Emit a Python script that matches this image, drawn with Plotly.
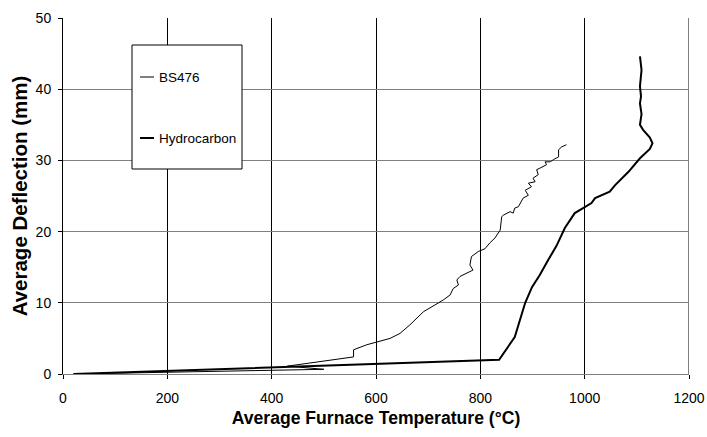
import plotly.graph_objects as go

# BS476 curve (temperature °C, deflection mm)
bs_temp = [20, 500, 430, 518, 557, 557, 582, 627, 646, 665, 691, 713, 729, 742, 748, 758, 755, 761,
           786, 780, 783, 796, 809, 818, 828, 838, 841, 844, 857, 863, 866, 873, 879, 882, 892,
           886, 898, 892, 905, 901, 911, 908, 914, 927, 924, 934, 940, 950, 950, 956, 965]
bs_defl = [0, 0.66, 1.1, 2.0, 2.4, 3.4, 4.1, 5.0, 5.7, 6.9, 8.75, 9.7, 10.4, 11.1, 12.0, 12.5, 13.2, 13.7,
           14.6, 15.3, 16.5, 17.2, 17.6, 18.4, 19.1, 20.2, 22.1, 22.3, 22.8, 22.6, 23.3, 23.5, 24.2, 24.7, 25.1,
           25.8, 26.3, 26.8, 27.0, 27.5, 28.0, 28.7, 28.9, 29.4, 29.8, 29.8, 30.1, 30.5, 31.5, 31.9, 32.2]

# Hydrocarbon curve
hc_temp = [20, 836, 866, 886, 899, 914, 930, 946, 962, 981, 997, 1013, 1020, 1048, 1058, 1084, 1106,
           1125, 1130, 1125, 1112, 1106, 1109, 1106, 1108, 1106, 1109, 1106]
hc_defl = [0, 2.0, 5.2, 10.0, 12.2, 13.9, 16.0, 18.0, 20.5, 22.6, 23.3, 24.0, 24.7, 25.6, 26.5, 28.4, 30.3,
           31.6, 32.4, 33.2, 34.3, 35.0, 36.5, 38.0, 39.0, 40.4, 42.7, 44.6]

x_ticks = [0, 200, 400, 600, 800, 1000, 1200]
y_ticks = [0, 10, 20, 30, 40, 50]
series_names = ["BS476", "Hydrocarbon"]
series_widths = [1, 2]

FONT = "Liberation Sans, Arial, sans-serif"

fig = go.Figure()
fig.add_trace(go.Scatter(x=bs_temp, y=bs_defl, mode="lines", name=series_names[0],
                         line=dict(color="black", width=series_widths[0])))
fig.add_trace(go.Scatter(x=hc_temp, y=hc_defl, mode="lines", name=series_names[1],
                         line=dict(color="black", width=series_widths[1])))

# plot area in pixels: x 63..689, y 18..374
def px(xp):
    return (xp - 63) / 626.0

def py(yp):
    return (374 - yp) / 356.0

shapes = [
    dict(type="rect", xref="paper", yref="paper",
         x0=px(132), x1=px(242), y0=py(169), y1=py(45),
         line=dict(color="black", width=1), fillcolor="white", layer="above"),
    dict(type="line", xref="x", yref="paper", x0=1200, x1=1200, y0=0, y1=1,
         line=dict(color="#808080", width=2), layer="above"),
]
annotations = []
legend_rows = [77, 138]
for name, w, yrow in zip(series_names, series_widths, legend_rows):
    shapes.append(dict(type="line", xref="paper", yref="paper",
                       x0=px(140), x1=px(154), y0=py(yrow), y1=py(yrow),
                       line=dict(color="black", width=w), layer="above"))
    annotations.append(dict(xref="paper", yref="paper", x=px(157), y=py(yrow),
                            xanchor="left", yanchor="middle", showarrow=False,
                            text=name, font=dict(family=FONT, size=13.5, color="black")))

fig.update_layout(
    width=707, height=437,
    margin=dict(l=63, r=18, t=18, b=63, autoexpand=False),
    paper_bgcolor="white", plot_bgcolor="white",
    font=dict(family=FONT, size=13.5, color="black"),
    showlegend=False,
    xaxis=dict(range=[0, 1200], tickvals=x_ticks, showgrid=True, gridcolor="black", gridwidth=1,
               showline=True, linecolor="#808080", linewidth=1, zeroline=False,
               ticks="outside", ticklen=4, tickcolor="black", ticklabelstandoff=7,
               tickfont=dict(size=14), automargin=False,
               title=dict(text="<b>Average Furnace Temperature (°C)</b>", font=dict(size=17.6), standoff=6)),
    yaxis=dict(range=[0, 50], tickvals=y_ticks, showgrid=True, gridcolor="#808080", gridwidth=1,
               showline=True, linecolor="black", linewidth=1, zeroline=False,
               ticks="outside", ticklen=4, tickcolor="black", ticklabelstandoff=4,
               tickfont=dict(size=14), automargin=False,
               title=dict(text="<b>Average Deflection (mm)</b>", font=dict(size=20.5), standoff=2)),
    shapes=shapes,
    annotations=annotations,
)

fig.write_html("out.html")
